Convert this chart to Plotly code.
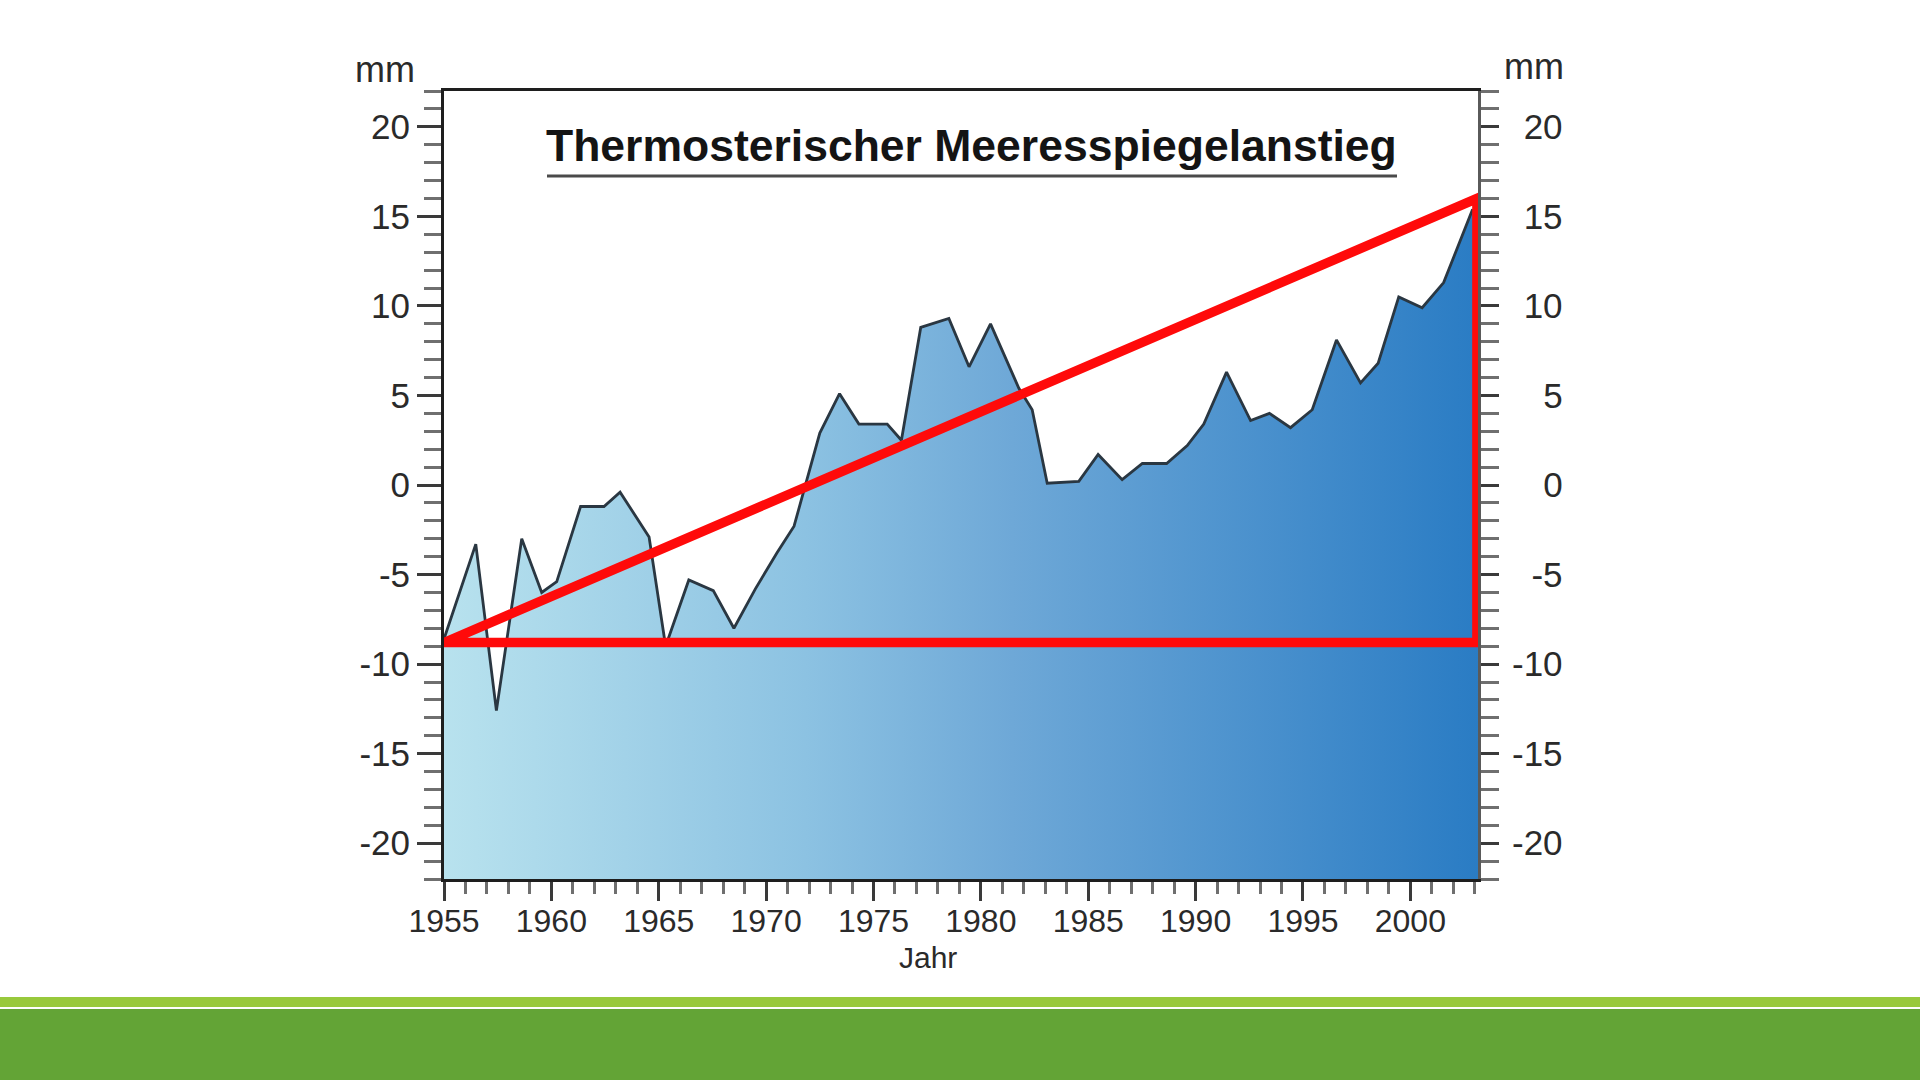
import plotly.graph_objects as go

# ---- data ----
years = [1955.0, 1956.48, 1957.44, 1958.62, 1959.55, 1960.25, 1961.36, 1962.45, 1963.2,
         1964.55, 1965.32, 1966.4, 1967.54, 1968.5, 1969.5, 1970.5, 1971.3, 1972.5,
         1973.42, 1974.32, 1975.64, 1976.3, 1977.2, 1978.51, 1979.45, 1980.45, 1981.77,
         1982.39, 1983.09, 1984.56, 1985.46, 1986.58, 1987.52, 1988.65, 1989.61, 1990.38,
         1991.44, 1992.56, 1993.44, 1994.42, 1995.43, 1996.56, 1997.68, 1998.5, 1999.46,
         2000.55, 2001.55, 2002.9]
sea_level_mm = [-8.6, -3.3, -12.6, -3.0, -6.0, -5.4, -1.2, -1.2, -0.4,
                -2.9, -9.0, -5.3, -5.9, -8.0, -5.8, -3.8, -2.3, 2.9,
                5.1, 3.4, 3.4, 2.5, 8.8, 9.3, 6.6, 9.0, 5.4,
                4.2, 0.1, 0.2, 1.7, 0.3, 1.2, 1.2, 2.2, 3.4,
                6.3, 3.6, 4.0, 3.2, 4.2, 8.1, 5.7, 6.8, 10.5,
                9.9, 11.3, 15.4]
trend_x = [1955.0, 2003.1, 2003.1, 1955.0]
trend_y = [-8.8, 16.0, -8.8, -8.8]

y_ticks = [-20, -15, -10, -5, 0, 5, 10, 15, 20]
x_ticks = [1955, 1960, 1965, 1970, 1975, 1980, 1985, 1990, 1995, 2000]
title_text = "Thermosterischer Meeresspiegelanstieg"
y_unit = "mm"
x_title = "Jahr"

X_RANGE = [1955.0, 2003.15]
Y_RANGE = [-22, 22]

FONT = "Liberation Sans, Arial, sans-serif"
TXT = "#2a2a2a"


def right_label(v):
    s = str(v)
    # pad with invisible characters so labels appear right-aligned
    if len(s) == 1:
        pad = "-1"
    elif len(s) == 2 and s.startswith("-"):
        pad = "1"
    elif len(s) == 2:
        pad = "-"
    else:
        pad = ""
    if pad:
        return '<span style="color:rgba(0,0,0,0)">' + pad + '</span>' + s
    return s


fig = go.Figure()

# gradient filled area (polygon closed along the right axis and the axis bottom)
poly_x = years + [X_RANGE[1], X_RANGE[1], years[0]]
poly_y = sea_level_mm + [sea_level_mm[-1], Y_RANGE[0], Y_RANGE[0]]
fig.add_trace(go.Scatter(
    x=poly_x, y=poly_y, mode="lines", fill="toself",
    line=dict(width=0, color="rgba(0,0,0,0)"),
    fillgradient=dict(type="horizontal",
                      colorscale=[[0.0, "rgb(184,226,238)"],
                                  [0.35, "rgb(140,194,226)"],
                                  [0.55, "rgb(110,168,215)"],
                                  [1.0, "rgb(42,124,196)"]]),
    hoverinfo="skip", showlegend=False))

# data line
fig.add_trace(go.Scatter(
    x=years, y=sea_level_mm, mode="lines",
    line=dict(color="#2a3742", width=2.8),
    showlegend=False))

# red trend triangle
fig.add_trace(go.Scatter(
    x=trend_x, y=trend_y, mode="lines",
    line=dict(color="#ff0a0a", width=9.5),
    showlegend=False))

fig.update_layout(
    width=1920, height=1080,
    margin=dict(l=0, r=0, t=0, b=0, pad=0, autoexpand=False),
    paper_bgcolor="white", plot_bgcolor="white",
    font=dict(family=FONT, color=TXT),
    showlegend=False,
    xaxis=dict(
        domain=[444 / 1920, 1478 / 1920], automargin=False,
        range=X_RANGE, tickvals=x_ticks, ticktext=[str(t) for t in x_ticks],
        ticks="outside", ticklen=19, tickwidth=3, tickcolor="#3a3a3a",
        ticklabelstandoff=-7,
        showline=True, linecolor="#1e1e1e", linewidth=3, mirror=True,
        showgrid=False, zeroline=False,
        tickfont=dict(size=32, color=TXT, family=FONT),
        minor=dict(dtick=1, tick0=1955, ticks="outside", ticklen=12, tickwidth=3,
                   tickcolor="#6f6f6f", showgrid=False),
    ),
    yaxis=dict(
        domain=[1 - 879 / 1080, 1 - 91 / 1080], automargin=False,
        range=Y_RANGE, tickvals=y_ticks, ticktext=[str(t) for t in y_ticks],
        ticks="outside", ticklen=24, tickwidth=3, tickcolor="#3a3a3a",
        showline=True, linecolor="#1e1e1e", linewidth=3,
        showgrid=False, zeroline=False,
        tickfont=dict(size=35, color=TXT, family=FONT),
        minor=dict(dtick=1, tick0=0, ticks="outside", ticklen=17, tickwidth=3,
                   tickcolor="#6f6f6f", showgrid=False),
    ),
    yaxis2=dict(
        overlaying="y", side="right", anchor="x", automargin=False,
        range=Y_RANGE, tickvals=y_ticks, ticktext=[right_label(t) for t in y_ticks],
        ticks="outside", ticklen=18, tickwidth=3, tickcolor="#3a3a3a",
        ticklabelstandoff=6,
        showline=True, linecolor="#5a5a5a", linewidth=3,
        showgrid=False, zeroline=False,
        tickfont=dict(size=35, color=TXT, family=FONT),
        minor=dict(dtick=1, tick0=0, ticks="outside", ticklen=18, tickwidth=3,
                   tickcolor="#6f6f6f", showgrid=False),
    ),
)

# invisible trace to activate right axis
fig.add_trace(go.Scatter(x=[X_RANGE[0]], y=[Y_RANGE[0]], yaxis="y2", mode="markers",
                         marker=dict(opacity=0), hoverinfo="skip", showlegend=False))

fig.add_annotation(text="<b>" + title_text + "</b>", xref="paper", yref="paper",
                   x=971 / 1920, y=1 - 145 / 1080, xanchor="center", yanchor="middle",
                   showarrow=False, font=dict(size=44.5, color="#141414", family=FONT))
fig.add_annotation(text=y_unit, xref="paper", yref="paper",
                   x=385 / 1920, y=1 - 70 / 1080, xanchor="center", yanchor="middle",
                   showarrow=False, font=dict(size=36, color=TXT, family=FONT))
fig.add_annotation(text=y_unit, xref="paper", yref="paper",
                   x=1534 / 1920, y=1 - 66 / 1080, xanchor="center", yanchor="middle",
                   showarrow=False, font=dict(size=36, color=TXT, family=FONT))
fig.add_annotation(text=x_title, xref="paper", yref="paper",
                   x=928 / 1920, y=1 - 957 / 1080, xanchor="center", yanchor="middle",
                   showarrow=False, font=dict(size=30, color=TXT, family=FONT))

# title underline
fig.add_shape(type="line", xref="paper", yref="paper",
              x0=547 / 1920, x1=1397 / 1920, y0=1 - 176 / 1080, y1=1 - 176 / 1080,
              line=dict(color="#4a4a4a", width=3))

# green footer bands
fig.add_shape(type="rect", xref="paper", yref="paper", x0=0, x1=1, y0=1 - 1007 / 1080,
              y1=1 - 997 / 1080, line=dict(width=0), fillcolor="#98c93c", layer="below")
fig.add_shape(type="rect", xref="paper", yref="paper", x0=0, x1=1, y0=0,
              y1=1 - 1009 / 1080, line=dict(width=0), fillcolor="#63a436", layer="below")

fig.write_html("out.html")
